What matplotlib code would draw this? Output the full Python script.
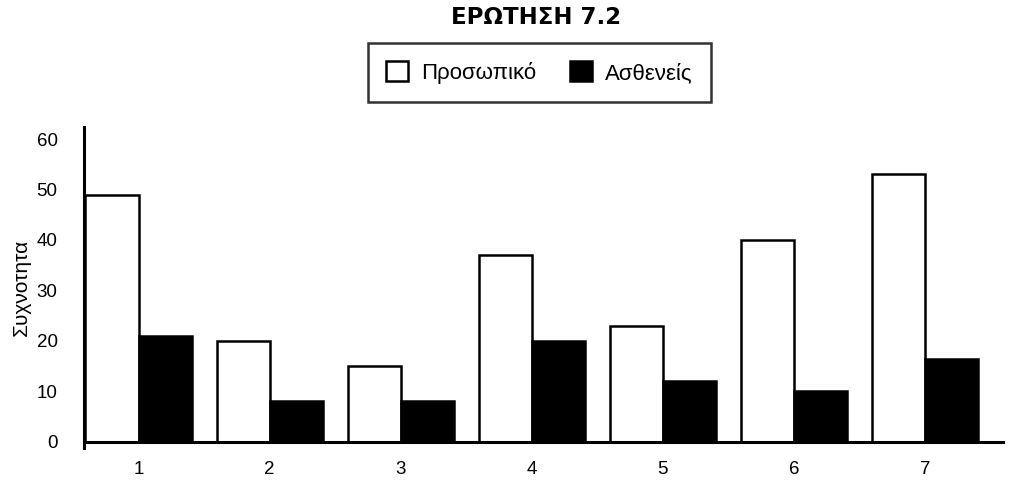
import numpy as np
import matplotlib.pyplot as plt

plt.rcParams['font.family'] = ['Liberation Sans', 'DejaVu Sans']

# Frequencies per question item
items = ['1', '2', '3', '4', '5', '6', '7']
staff = [49, 20, 15, 37, 23, 40, 53]        # Προσωπικό
patients = [21, 8, 8, 20, 12, 10, 16.5]     # Ασθενείς

x = np.arange(1, len(items) + 1)
w = 0.405

fig = plt.figure(figsize=(10.1, 4.82), dpi=100)
ax = fig.add_axes([0.0832, 0.071, 0.910, 0.6655])

ax.bar(x - w/2, staff, width=w, color='white', edgecolor='black',
       linewidth=1.8, label='Προσωπικό')
ax.bar(x + w/2, patients, width=w, color='black', edgecolor='black',
       linewidth=1.8, label='Ασθενείς')

ax.set_xlim(0.584, 7.595)
ax.set_ylim(-1.2, 62.4)
ax.set_xticks(x)
ax.set_xticklabels(items)
ax.set_yticks(np.arange(0, 61, 10))

ax.spines['top'].set_visible(False)
ax.spines['right'].set_visible(False)
ax.spines['bottom'].set_position(('data', 0))
ax.spines['left'].set_linewidth(2.2)
ax.spines['bottom'].set_linewidth(2.2)
ax.tick_params(axis='y', length=0, pad=19, labelsize=13.5)
ax.tick_params(axis='x', length=0, pad=14, labelsize=13.5)

ax.set_ylabel('Συχνοτητα', fontsize=15, labelpad=4)

fig.text(0.531, 0.963, 'ΕΡΩΤΗΣΗ 7.2', ha='center', va='center',
         fontsize=16.5, fontweight='bold', family=['DejaVu Sans'])

leg = ax.legend(loc='center', bbox_to_anchor=(0.534, 0.8496),
                bbox_transform=fig.transFigure, ncol=2, fontsize=16,
                frameon=True, fancybox=False, edgecolor='black',
                handlelength=1.0, handleheight=1.0, handletextpad=0.6,
                columnspacing=1.5, borderpad=0.8)
leg.get_frame().set_linewidth(1.8)

fig.savefig('out.png', dpi=100)
